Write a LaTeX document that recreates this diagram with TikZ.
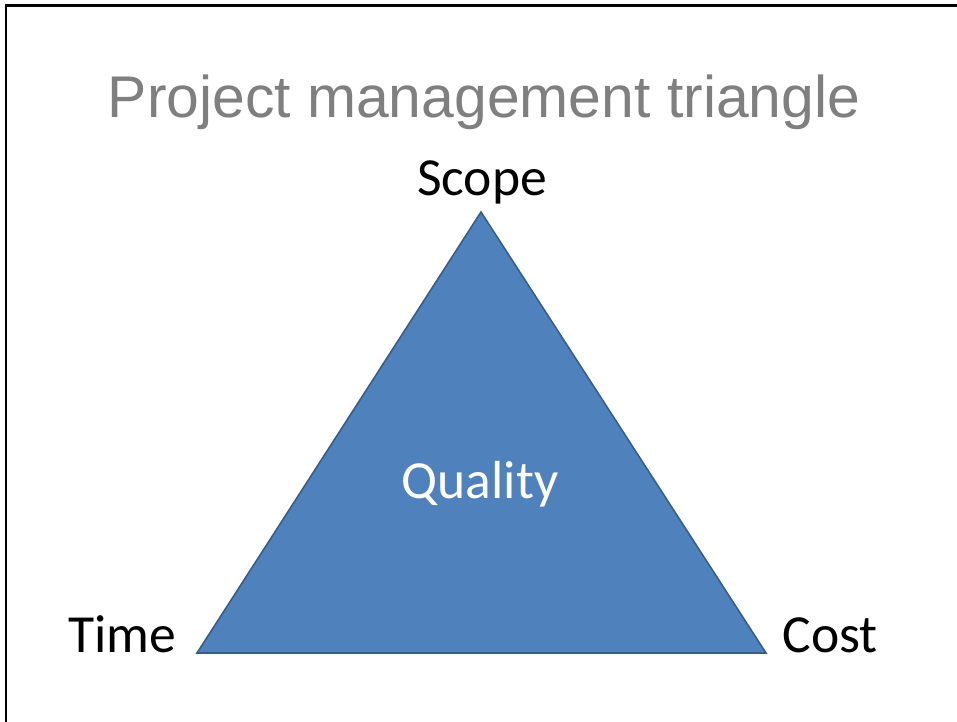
\documentclass[tikz,border=0pt]{standalone}
\usepackage{fontspec}
\setmainfont{Liberation Sans}
\newfontfamily\labelfont{Carlito}
\definecolor{triblue}{HTML}{4F81BD}
\definecolor{triedge}{HTML}{385D8A}
\definecolor{titlegray}{HTML}{7F7F7F}
\begin{document}
\begin{tikzpicture}[
        x=0.02cm, y=-0.02cm,
        title/.style={font=\fontsize{33.5}{40}\selectfont, text=titlegray, anchor=base, inner sep=0pt},
        corner/.style={font=\labelfont\fontsize{30.5}{36}\selectfont, anchor=base, inner sep=0pt},
        inside/.style={corner, text=white},
        tri/.style={fill=triblue, draw=triedge, line width=0.9pt, line join=miter},
        frame/.style={draw=black, line width=1.7pt}
    ]
    \useasboundingbox (0,0) rectangle (957,722);
    % slide frame
    \draw[frame] (6,740) -- (6,6) -- (975,6);

    \node[title] (heading) at (484,118) {Project management triangle};

    % triangle corners
    \coordinate (top) at (481,212);
    \coordinate (left) at (197,653);
    \coordinate (right) at (766,653);
    \path[tri] (top) -- (left) -- (right) -- cycle;

    \node[corner] (scope) at (482,196) {Scope};
    \node[corner] (time) at (122,652) {Time};
    \node[corner] (cost) at (830,652) {Cost};
    \node[inside] (quality) at (480,499) {Quality};
\end{tikzpicture}
\end{document}
